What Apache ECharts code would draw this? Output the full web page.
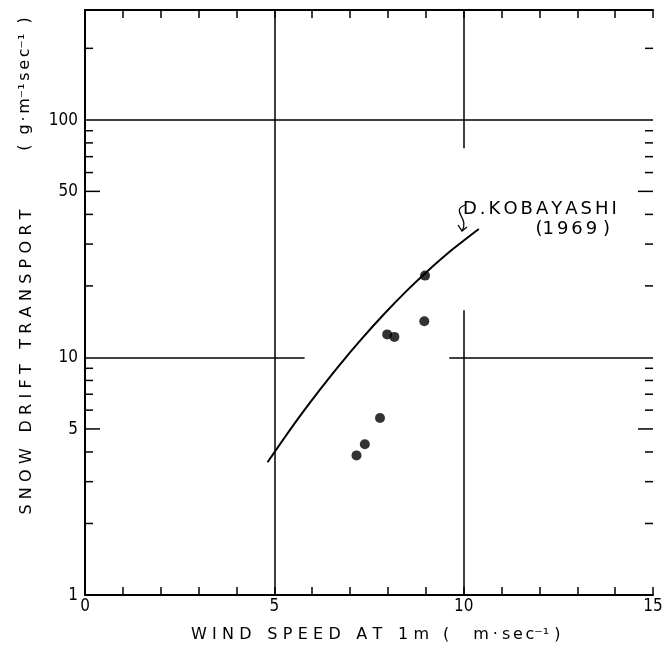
<!DOCTYPE html>
<html>
<head>
<meta charset="utf-8">
<script src="https://cdn.jsdelivr.net/npm/echarts@6/dist/echarts.min.js"></script>
<style>
html, body { margin: 0; background: #fff; }
#chart { width: 665px; height: 652px; }
</style>
</head>
<body>
<div id="chart"></div>
<script>
// D. Kobayashi (1969) curve
let curveSpeed = [4.82, 5.3, 5.7, 6.2, 6.7, 7.3, 7.9, 8.5, 9.0, 9.7, 10.4];
let curveTransport = [3.62, 4.67, 5.73, 7.30, 9.20, 11.94, 15.23, 19.10, 22.74, 28.44, 34.74];

// observed points
let obsSpeed = [8.98, 8.96, 7.98, 8.17, 7.79, 7.39, 7.17];
let obsTransport = [22.1, 14.2, 12.5, 12.2, 5.56, 4.31, 3.87];

// axes
let xLabels = [0, 5, 10, 15];
let yLabels = [1, 5, 10, 50, 100];
let yMinorTicks = [2, 3, 4, 6, 7, 8, 9, 20, 30, 40, 60, 70, 80, 90, 200];
let yMajorTicks = [5, 50];

// grid lines, some of them broken around the curve and the label
let gridSegs = [
	[[5, 1], [5, 290]],
	[[10, 76], [10, 290]],
	[[10, 1], [10, 15.8]],
	[[0, 100], [15, 100]],
	[[0, 10], [5.8, 10]],
	[[9.62, 10], [15, 10]]
];

let FONT = '"DejaVu Sans", sans-serif';
let TICK_FONT = '18px ' + FONT;

function spread(s, gap) {
	return s.split('').join(gap);
}

let chart = echarts.init(document.getElementById('chart'), null, { renderer: 'canvas' });

let xCommon = {
	type: 'value',
	min: 0,
	max: 15,
	interval: 1,
	axisLine: { show: true, lineStyle: { color: '#000', width: 2 } },
	axisTick: { show: true, inside: true, length: 8, lineStyle: { color: '#000', width: 1.5 } },
	axisLabel: { show: false },
	splitLine: { show: false }
};

let yCommon = {
	type: 'log',
	logBase: 10,
	min: 1,
	max: 290,
	axisLine: { show: true, lineStyle: { color: '#000', width: 2 } },
	axisTick: { show: false },
	axisLabel: { show: false },
	splitLine: { show: false }
};

let option = {
	animation: false,
	backgroundColor: '#fff',
	grid: { left: 85, top: 10, right: 12, bottom: 57 },
	xAxis: [
		Object.assign({}, xCommon, { position: 'bottom' }),
		Object.assign({}, xCommon, { position: 'top' })
	],
	yAxis: [
		Object.assign({}, yCommon, { position: 'left' }),
		Object.assign({}, yCommon, { position: 'right' })
	],
	series: [
		{
			// grid lines
			type: 'lines',
			coordinateSystem: 'cartesian2d',
			silent: true,
			lineStyle: { color: '#000', width: 1.5, opacity: 1 },
			data: gridSegs.map(function (s) { return { coords: s }; })
		},
		{
			// y ticks on both sides
			type: 'custom',
			clip: false,
			silent: true,
			data: yMinorTicks.map(function (v) { return [0, v, 8]; })
				.concat(yMajorTicks.map(function (v) { return [0, v, 15]; })),
			renderItem: function (params, api) {
				let v = api.value(1), len = api.value(2);
				let l = api.coord([0, v]), r = api.coord([15, v]);
				return {
					type: 'group',
					children: [
						{ type: 'line', shape: { x1: l[0], y1: l[1], x2: l[0] + len, y2: l[1] }, style: { stroke: '#000', lineWidth: 1.5 } },
						{ type: 'line', shape: { x1: r[0], y1: r[1], x2: r[0] - len, y2: r[1] }, style: { stroke: '#000', lineWidth: 1.5 } }
					]
				};
			}
		},
		{
			// y labels (narrow digits like the original)
			type: 'custom',
			clip: false,
			silent: true,
			data: yLabels.map(function (v) { return [0, v]; }),
			renderItem: function (params, api) {
				let v = api.value(1);
				let p = api.coord([0, v]);
				return {
					type: 'text',
					x: p[0] - 7,
					y: p[1],
					scaleX: 0.85,
					style: { text: String(v), align: 'right', verticalAlign: 'middle', font: TICK_FONT, fill: '#000' }
				};
			}
		},
		{
			// x labels
			type: 'custom',
			clip: false,
			silent: true,
			data: xLabels.map(function (v) { return [v, 1]; }),
			renderItem: function (params, api) {
				let v = api.value(0);
				let p = api.coord([v, 1]);
				return {
					type: 'text',
					x: p[0],
					y: p[1] + 11,
					scaleX: 0.85,
					style: { text: String(v), align: 'center', verticalAlign: 'middle', font: TICK_FONT, fill: '#000' }
				};
			}
		},
		{
			name: 'D.KOBAYASHI (1969)',
			type: 'line',
			smooth: 0.3,
			showSymbol: false,
			symbol: 'none',
			lineStyle: { color: '#000', width: 2 },
			data: curveSpeed.map(function (x, i) { return [x, curveTransport[i]]; })
		},
		{
			name: 'observed',
			type: 'scatter',
			symbol: 'circle',
			symbolSize: 10,
			itemStyle: { color: '#000' },
			data: obsSpeed.map(function (x, i) { return [x, obsTransport[i]]; })
		}
	],
	graphic: [
		{
			type: 'text',
			x: 27,
			y: 362,
			rotation: Math.PI / 2,
			style: { text: spread('SNOW DRIFT TRANSPORT', '\u2004'), align: 'center', verticalAlign: 'middle', font: '16px ' + FONT, fill: '#000' }
		},
		{
			type: 'text',
			x: 25,
			y: 84,
			rotation: Math.PI / 2,
			style: { text: '(  g\u2006\u00b7\u2006m\u207b\u00b9\u2006s\u2006e\u2006c\u207b\u00b9  )', align: 'center', verticalAlign: 'middle', font: '16px ' + FONT, fill: '#000' }
		},
		{
			type: 'text',
			x: 191,
			y: 635,
			style: { text: spread('WIND SPEED AT 1m', '\u2004'), align: 'left', verticalAlign: 'middle', font: '16px ' + FONT, fill: '#000' }
		},
		{
			type: 'text',
			x: 443,
			y: 635,
			style: { text: '(\u2003\u2002m\u2005\u00b7\u2005s\u2006e\u2006c\u207b\u00b9\u2004)', align: 'left', verticalAlign: 'middle', font: '16px ' + FONT, fill: '#000' }
		},
		{
			type: 'text',
			x: 463,
			y: 209,
			style: { text: spread('D.KOBAYASHI', '\u2006'), align: 'left', verticalAlign: 'middle', font: '18px ' + FONT, fill: '#000' }
		},
		{
			type: 'text',
			x: 610,
			y: 229,
			style: { text: '(' + spread('1969', '\u2006') + ' )', align: 'right', verticalAlign: 'middle', font: '18px ' + FONT, fill: '#000' }
		},
		{
			// little squiggly pointer to the curve
			type: 'bezierCurve',
			shape: { x1: 465, y1: 205, cpx1: 450, cpy1: 211, cpx2: 470, cpy2: 218, x2: 462, y2: 231 },
			style: { stroke: '#000', lineWidth: 1.3, fill: null }
		},
		{
			type: 'polyline',
			shape: { points: [[458, 225], [462, 231], [467, 227]] },
			style: { stroke: '#000', lineWidth: 1.3, fill: null }
		}
	]
};

chart.setOption(option);
</script>
</body>
</html>
